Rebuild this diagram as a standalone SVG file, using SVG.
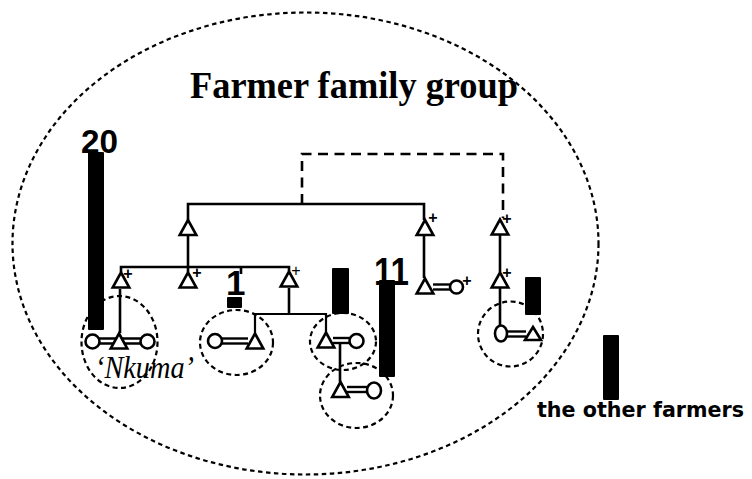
<svg xmlns="http://www.w3.org/2000/svg" width="752" height="479" viewBox="0 0 752 479">
<defs>
<style>
.ln{fill:none;stroke:#000;stroke-width:2.6;stroke-linecap:butt}
.dl{fill:none;stroke:#000;stroke-width:2.6;stroke-dasharray:10 6.5}
.big{fill:none;stroke:#000;stroke-width:2.2;stroke-dasharray:4.5 3.5}
.grp{fill:none;stroke:#000;stroke-width:2.2;stroke-dasharray:5 3.5}
.tri{fill:#fff;stroke:#000;stroke-width:2.6;stroke-linejoin:miter}
.fem{fill:#fff;stroke:#000;stroke-width:2.6}
.eq{fill:none;stroke:#000;stroke-width:2.4}
.bar{fill:#000}
.plus{font-family:"Liberation Sans",Arial,sans-serif;font-size:16px;font-weight:bold;text-anchor:middle;fill:#000}
.num{font-family:"Liberation Sans",Arial,sans-serif;font-weight:bold;fill:#000}
</style>
<path id="tri" d="M0,-7.5 L8.3,7.5 L-8.3,7.5 Z"/>
</defs>
<rect width="752" height="479" fill="#fff"/>

<g id="family-group-boundary">
<ellipse class="big" cx="305.5" cy="243.5" rx="293" ry="231"/>
</g>

<g id="connectors">
<path class="ln" d="M188,220 V204 H424 V220"/>
<path class="dl" d="M302,204 V154 H503 V218"/>
<path class="ln" d="M188,235 V267"/>
<path class="ln" d="M121,272 V267 H289 V271"/>
<path class="ln" d="M188,267 V272"/>
<path class="ln" d="M241,267 V274"/>
<path class="ln" d="M120,289 V333"/>
<path class="ln" d="M289,288 V314"/>
<path class="ln" style="stroke-width:2.2" d="M255,333 V314 H326 V332"/>
<path class="ln" d="M340,343 V382"/>
<path class="ln" d="M424,235 V278"/>
<path class="ln" d="M500,235 V272"/>
<path class="ln" d="M500,288 V325"/>
</g>

<g id="household-circles">
<ellipse class="grp" cx="119.5" cy="342" rx="38" ry="46"/>
<ellipse class="grp" cx="236.5" cy="342.5" rx="36.5" ry="32.5"/>
<ellipse class="grp" cx="343" cy="341.5" rx="33" ry="28.5"/>
<ellipse class="grp" cx="356.5" cy="395.5" rx="36.5" ry="32.5"/>
<ellipse class="grp" cx="510.5" cy="334" rx="32.5" ry="32.5"/>
</g>

<g id="bars">
<rect class="bar" x="88" y="152" width="16" height="178" rx="1"/>
<rect class="bar" x="227" y="297" width="15" height="11" rx="1"/>
<rect class="bar" x="332" y="268" width="17" height="46" rx="1"/>
<rect class="bar" x="379" y="280" width="16" height="97" rx="1"/>
<rect class="bar" x="525" y="277" width="16" height="38" rx="1"/>
<rect class="bar" x="603" y="335" width="16" height="65" rx="1"/>
</g>

<g id="node-gen1-left"><use href="#tri" class="tri" x="188" y="227.5"/></g>
<g id="node-gen1-right"><use href="#tri" class="tri" x="425" y="227.5"/><text class="plus" x="433" y="222.5">+</text></g>
<g id="node-gen1-far"><use href="#tri" class="tri" x="500" y="227"/><text class="plus" x="507" y="223.5">+</text></g>

<g id="node-gen2-a"><use href="#tri" class="tri" x="121" y="280"/><text class="plus" x="128" y="278.5">+</text></g>
<g id="node-gen2-b"><use href="#tri" class="tri" x="188" y="280"/><text class="plus" x="197" y="277.5">+</text></g>
<g id="node-gen2-c"><use href="#tri" class="tri" x="289" y="279"/><text class="plus" x="296" y="275.5" style="font-weight:normal">+</text></g>
<g id="node-gen2-d"><use href="#tri" class="tri" x="425" y="286"/>
<line class="eq" x1="433" y1="284.5" x2="450" y2="284.5"/><line class="eq" x1="433" y1="289.5" x2="450" y2="289.5"/>
<circle class="fem" cx="456.5" cy="287" r="6.5"/><text class="plus" x="467" y="285.5">+</text></g>
<g id="node-gen2-e"><use href="#tri" class="tri" x="500" y="280"/><text class="plus" x="507" y="277.5">+</text></g>

<g id="node-nkuma">
<line class="eq" x1="99" y1="338.5" x2="141" y2="338.5"/><line class="eq" x1="99" y1="343.5" x2="141" y2="343.5"/>
<circle class="fem" cx="92.5" cy="341.5" r="7"/>
<circle class="fem" cx="147.5" cy="341.5" r="7"/>
<use href="#tri" class="tri" x="119" y="341"/>
<text x="95" y="378" font-family="'Liberation Serif','Times New Roman',serif" font-style="italic" font-size="31" textLength="99" lengthAdjust="spacingAndGlyphs">‘Nkuma’</text>
</g>

<g id="node-household-2">
<line class="eq" x1="221" y1="338.5" x2="248" y2="338.5"/><line class="eq" x1="221" y1="343.5" x2="248" y2="343.5"/>
<circle class="fem" cx="215" cy="341" r="7"/>
<use href="#tri" class="tri" x="255" y="341"/>
</g>

<g id="node-household-3">
<line class="eq" x1="333" y1="338" x2="351" y2="338"/><line class="eq" x1="333" y1="343" x2="351" y2="343"/>
<use href="#tri" class="tri" x="326" y="340"/>
<circle class="fem" cx="356.5" cy="341" r="7"/>
</g>

<g id="node-household-4">
<line class="eq" x1="347" y1="387" x2="368" y2="387"/><line class="eq" x1="347" y1="392" x2="368" y2="392"/>
<use href="#tri" class="tri" x="340.5" y="389.5"/>
<ellipse class="fem" cx="374" cy="390.5" rx="7" ry="8"/>
</g>

<g id="node-household-5">
<line class="eq" x1="506" y1="331.5" x2="526" y2="331.5"/><line class="eq" x1="506" y1="336.5" x2="526" y2="336.5"/>
<ellipse class="fem" cx="501" cy="333.5" rx="6" ry="8"/>
<path class="tri" d="M533,327 L541,340 L525,340 Z"/>
</g>

<g id="labels">
<text x="190" y="98" font-family="'Liberation Serif','Times New Roman',serif" font-weight="bold" font-size="37" textLength="328" lengthAdjust="spacingAndGlyphs">Farmer family group</text>
<text class="num" x="81" y="153" font-size="34" textLength="37" lengthAdjust="spacingAndGlyphs">20</text>
<text class="num" x="226" y="295" font-size="35">1</text>
<text class="num" x="374" y="285" font-size="38" font-weight="normal" textLength="35" lengthAdjust="spacingAndGlyphs">11</text>
<text x="537" y="417" font-family="'DejaVu Sans',Verdana,sans-serif" font-weight="bold" font-size="20.5" textLength="207" lengthAdjust="spacingAndGlyphs">the other farmers</text>
</g>
</svg>
